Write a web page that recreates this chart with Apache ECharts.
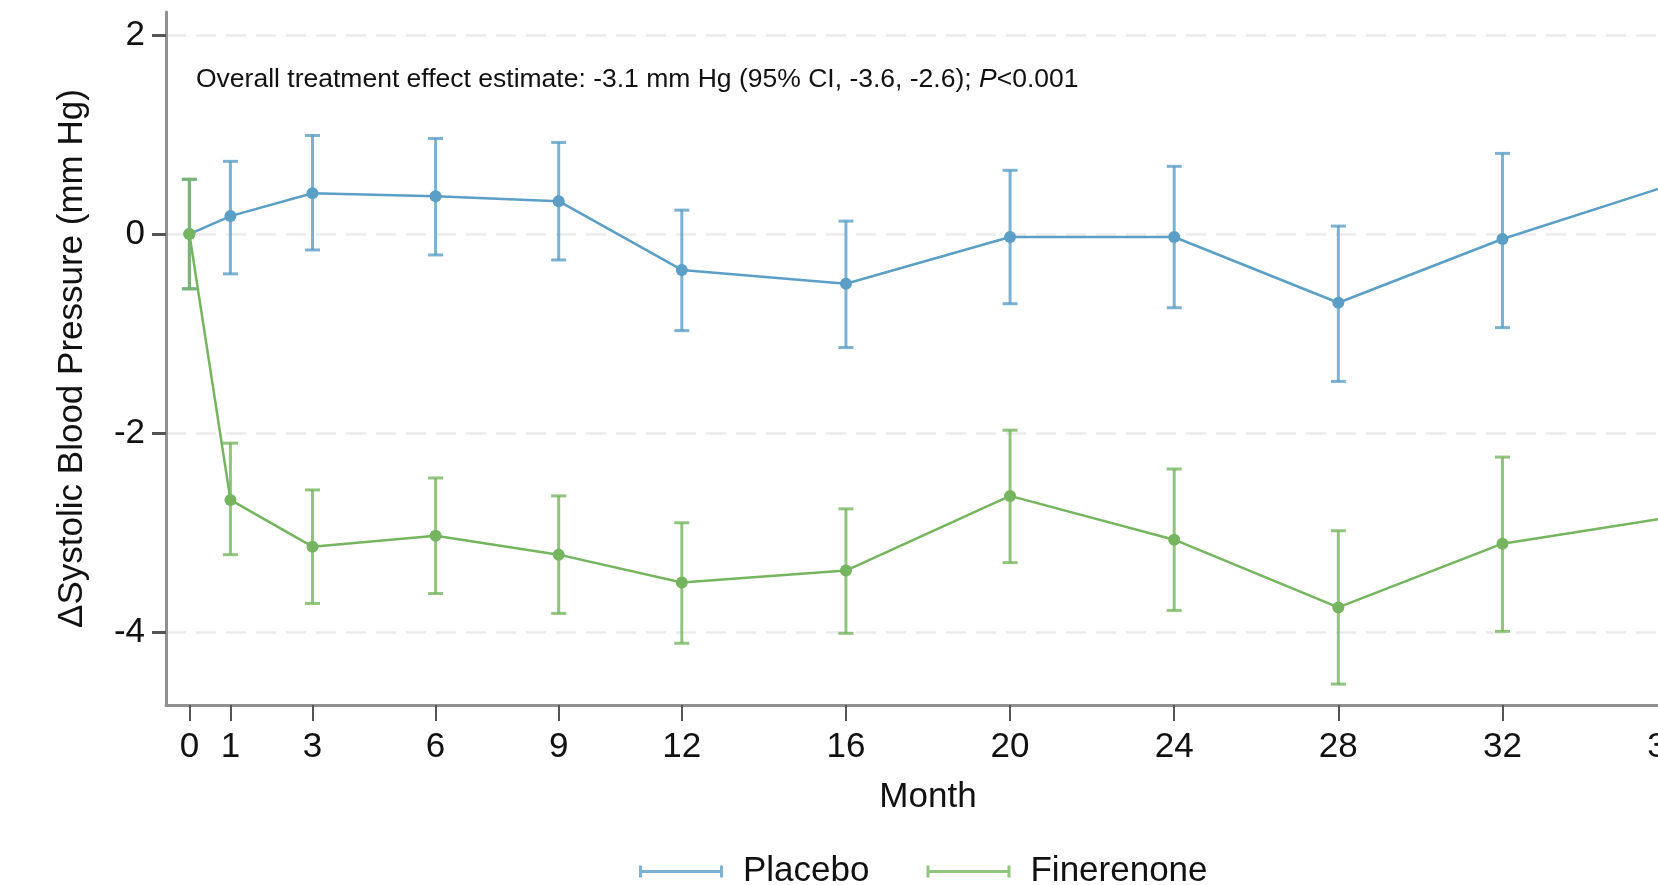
<!DOCTYPE html>
<html lang="en">
  <head>
    <meta charset="UTF-8" />
    <title>Systolic blood pressure change</title>
    <style>
      html, body { margin: 0; padding: 0; background: #fff; overflow: hidden; }
      #main { width: 1658px; height: 885px; }
    </style>
  </head>
  <body>
    <div id="main"></div>
    <script src="https://cdn.jsdelivr.net/npm/echarts@6/dist/echarts.min.js"></script>
    <script>
      const myChart = echarts.init(document.getElementById('main'))

      // months of follow-up
      var months = [0, 1, 3, 6, 9, 12, 16, 20, 24, 28, 32, 36]
      var xTicks = [0, 1, 3, 6, 9, 12, 16, 20, 24, 28, 32, 36]
      var yTicks = [-4, -2, 0, 2]

      // placebo: mean change and 95% CI
      var placebo = [0, 0.18, 0.41, 0.38, 0.33, -0.36, -0.5, -0.03, -0.03, -0.69, -0.05, 0.48]
      var placeboLow = [-0.55, -0.4, -0.16, -0.21, -0.26, -0.97, -1.14, -0.7, -0.74, -1.48, -0.94, null]
      var placeboHigh = [0.55, 0.73, 0.99, 0.96, 0.92, 0.24, 0.13, 0.64, 0.68, 0.08, 0.81, null]

      // finerenone: mean change and 95% CI
      var fineren = [0, -2.67, -3.14, -3.03, -3.22, -3.5, -3.38, -2.63, -3.07, -3.75, -3.11, -2.85]
      var finerenLow = [-0.55, -3.22, -3.71, -3.61, -3.81, -4.11, -4.01, -3.3, -3.78, -4.52, -3.99, null]
      var finerenHigh = [0.55, -2.1, -2.57, -2.45, -2.63, -2.9, -2.76, -1.97, -2.36, -2.98, -2.24, null]

      var blue = '#5b9ec6'
      var green = '#76b55f'
      var font = 'Liberation Sans, Arial, Helvetica, sans-serif'

      function pairs(ys) {
        return months.map(function (m, i) { return [m, ys[i]] })
      }
      function ciData(lo, hi) {
        var out = []
        for (let i = 0; i < months.length; i++) {
          if (lo[i] != null && hi[i] != null) out.push([months[i], lo[i], hi[i]])
        }
        return out
      }
      // vertical whisker with caps
      function errorBar(color) {
        return function (params, api) {
          var x = api.value(0)
          var lo = api.coord([x, api.value(1)])
          var hi = api.coord([x, api.value(2)])
          var w = 7.5
          var style = { stroke: color, lineWidth: 3, opacity: 0.8 }
          return {
            type: 'group',
            children: [
              { type: 'line', shape: { x1: lo[0], y1: lo[1], x2: hi[0], y2: hi[1] }, style: style },
              { type: 'line', shape: { x1: lo[0] - w, y1: lo[1], x2: lo[0] + w, y2: lo[1] }, style: style },
              { type: 'line', shape: { x1: hi[0] - w, y1: hi[1], x2: hi[0] + w, y2: hi[1] }, style: style }
            ]
          }
        }
      }

      var option = {
        backgroundColor: '#fff',
        animation: false,
        textStyle: { fontFamily: font, color: '#111' },
        title: {
          left: 191,
          top: 61,
          text: '{n|Overall treatment effect estimate: -3.1 mm Hg (95% CI, -3.6, -2.6); }{i|P}{n|<0.001}',
          textStyle: {
            fontWeight: 'normal',
            rich: {
              n: { fontFamily: font, fontSize: 26.5, fontWeight: 'normal', color: '#111' },
              i: { fontFamily: font, fontSize: 26.5, fontWeight: 'normal', color: '#111', fontStyle: 'italic' }
            }
          }
        },
        legend: {
          data: ['Placebo', 'Finerenone'],
          left: 634,
          top: 849,
          icon: 'path://M0,0H3V12H0Z M3,4.5H81V7.5H3Z M81,0H84V12H81Z',
          itemWidth: 84,
          itemHeight: 12,
          itemGap: 57,
          itemStyle: { opacity: 0.8 },
          textStyle: { fontFamily: font, fontSize: 35, color: '#111', padding: [0, 0, 0, 15] }
        },
        grid: { left: 166, top: 12, width: 1524, height: 693, outerBoundsMode: 'none', containLabel: false },
        xAxis: {
          type: 'value',
          min: -0.57,
          max: 36.57,
          name: 'Month',
          nameLocation: 'middle',
          nameGap: 75,
          nameTextStyle: { fontFamily: font, fontSize: 35, color: '#111' },
          axisLine: { show: true, onZero: false, lineStyle: { color: '#909090', width: 3 } },
          axisTick: { show: true, customValues: xTicks, length: 16, lineStyle: { color: '#555', width: 2 } },
          axisLabel: { customValues: xTicks, margin: 25, fontFamily: font, fontSize: 35, color: '#111' },
          splitLine: { show: false }
        },
        yAxis: {
          type: 'value',
          min: -4.73,
          max: 2.23,
          name: '\u0394Systolic Blood Pressure (mm Hg)',
          nameLocation: 'middle',
          nameGap: 76,
          nameTextStyle: { fontFamily: font, fontSize: 35, color: '#111' },
          axisLine: { show: true, onZero: false, lineStyle: { color: '#909090', width: 3 } },
          axisTick: { show: true, customValues: yTicks, length: 14, lineStyle: { color: '#555', width: 3 } },
          axisLabel: { customValues: yTicks, margin: 21, fontFamily: font, fontSize: 35, color: '#111' },
          splitLine: { show: true, lineStyle: { color: '#ebebeb', width: 2.5, type: [20, 10] } }
        },
        series: [
          {
            name: 'Placebo CI',
            type: 'custom',
            renderItem: errorBar(blue),
            data: ciData(placeboLow, placeboHigh),
            z: 2
          },
          {
            name: 'Placebo',
            type: 'line',
            data: pairs(placebo),
            symbol: 'circle',
            symbolSize: 12,
            color: blue,
            lineStyle: { color: blue, width: 2.5 },
            itemStyle: { color: blue },
            z: 3
          },
          {
            name: 'Finerenone CI',
            type: 'custom',
            renderItem: errorBar(green),
            data: ciData(finerenLow, finerenHigh),
            z: 4
          },
          {
            name: 'Finerenone',
            type: 'line',
            data: pairs(fineren),
            symbol: 'circle',
            symbolSize: 12,
            color: green,
            lineStyle: { color: green, width: 2.5 },
            itemStyle: { color: green },
            z: 5
          }
        ]
      }

      myChart.setOption(option)
    </script>
  </body>
</html>
